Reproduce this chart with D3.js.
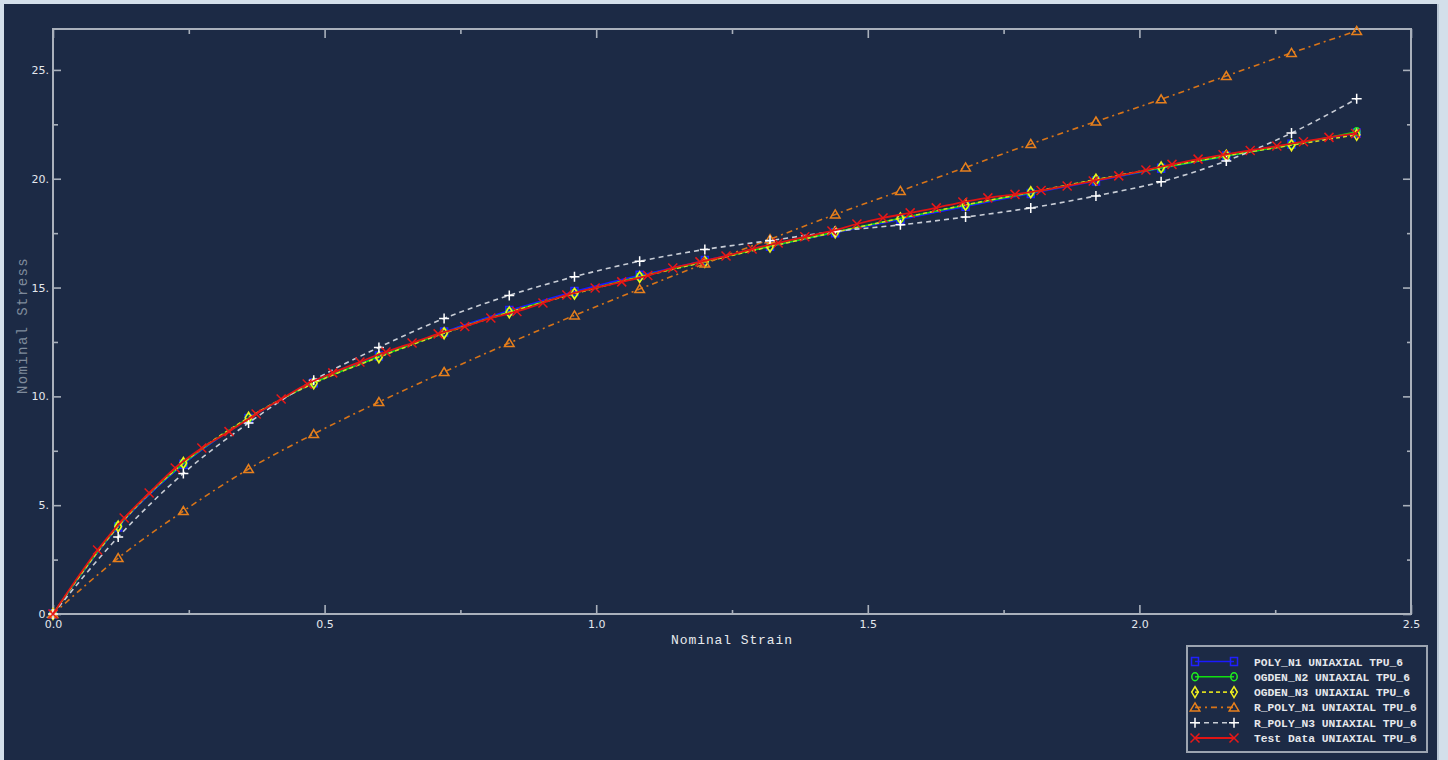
<!DOCTYPE html>
<html>
<head>
<meta charset="utf-8">
<script src="https://cdn.jsdelivr.net/npm/d3@7"></script>
<style>
  html, body { margin: 0; padding: 0; background: #d3dfea; }
  svg { display: block; }
</style>
</head>
<body>
<svg id="chart" width="1448" height="760"></svg>
<script>
// ---------------- DATA ----------------
const strain = [0, 0.12, 0.24, 0.36, 0.48, 0.60, 0.72, 0.84, 0.96, 1.08, 1.20, 1.32, 1.44, 1.56, 1.68, 1.80, 1.92, 2.04, 2.16, 2.28, 2.40];

const polyN1   = [0, 4.00, 6.88, 8.98, 10.62, 11.85, 12.96, 13.94, 14.82, 15.56, 16.24, 16.90, 17.52, 18.13, 18.73, 19.32, 19.90, 20.48, 21.04, 21.58, 22.10];
const ogdenN2  = [0, 4.04, 6.92, 9.00, 10.62, 11.82, 12.92, 13.88, 14.74, 15.50, 16.20, 16.90, 17.55, 18.18, 18.78, 19.36, 19.94, 20.50, 21.05, 21.56, 22.16];
const ogdenN3  = [0, 4.02, 6.94, 9.02, 10.60, 11.80, 12.90, 13.86, 14.72, 15.48, 16.18, 16.88, 17.54, 18.18, 18.80, 19.38, 19.96, 20.52, 21.06, 21.54, 22.02];
const rPolyN1  = [0, 2.57, 4.73, 6.66, 8.27, 9.74, 11.12, 12.45, 13.72, 14.93, 16.10, 17.22, 18.36, 19.44, 20.52, 21.60, 22.63, 23.65, 24.72, 25.78, 26.79];
const rPolyN3  = [0, 3.54, 6.46, 8.78, 10.74, 12.25, 13.58, 14.64, 15.50, 16.21, 16.75, 17.16, 17.58, 17.88, 18.24, 18.66, 19.21, 19.86, 20.82, 22.10, 23.67];

const testStrain = [0, 0.082, 0.131, 0.177, 0.225, 0.274, 0.324, 0.374, 0.420, 0.468, 0.515, 0.565, 0.613, 0.661, 0.709, 0.758, 0.806, 0.854, 0.902, 0.946, 0.998, 1.047, 1.095, 1.141, 1.191, 1.239, 1.287, 1.335, 1.384, 1.434, 1.480, 1.528, 1.578, 1.626, 1.675, 1.721, 1.771, 1.819, 1.867, 1.915, 1.962, 2.012, 2.060, 2.108, 2.154, 2.204, 2.253, 2.302, 2.349, 2.398];
const testStress = [0, 2.94, 4.41, 5.56, 6.71, 7.63, 8.38, 9.19, 9.88, 10.57, 11.08, 11.58, 12.04, 12.45, 12.87, 13.21, 13.60, 13.90, 14.29, 14.66, 14.98, 15.26, 15.55, 15.90, 16.18, 16.45, 16.77, 17.05, 17.33, 17.60, 17.92, 18.20, 18.43, 18.66, 18.93, 19.12, 19.28, 19.46, 19.67, 19.90, 20.13, 20.40, 20.66, 20.90, 21.10, 21.30, 21.50, 21.70, 21.90, 22.08];

const seriesNames = ["POLY_N1 UNIAXIAL TPU_6", "OGDEN_N2 UNIAXIAL TPU_6", "OGDEN_N3 UNIAXIAL TPU_6", "R_POLY_N1 UNIAXIAL TPU_6", "R_POLY_N3 UNIAXIAL TPU_6", "Test Data UNIAXIAL TPU_6"];

const xMajorTicks = [0, 0.5, 1.0, 1.5, 2.0, 2.5];
const xMajorLabels = ["0.0", "0.5", "1.0", "1.5", "2.0", "2.5"];
const xMinorTicks = [0.25, 0.75, 1.25, 1.75, 2.25];
const yMajorTicks = [0, 5, 10, 15, 20, 25];
const yMajorLabels = ["0.", "5.", "10.", "15.", "20.", "25."];
const yMinorTicks = [2.5, 7.5, 12.5, 17.5, 22.5];

const xLabel = "Nominal Strain";
const yLabel = "Nominal Stress";

// ---------------- STYLES ----------------
const seriesStyle = [
  { color: "#1a1aff", dash: null,      width: 1.6, marker: "square",   mcolor: "#2020ff" },
  { color: "#10e010", dash: null,      width: 1.6, marker: "circle",   mcolor: "#20f020" },
  { color: "#d8d820", dash: "4,3",     width: 1.6, marker: "diamond",  mcolor: "#f0f020" },
  { color: "#d87418", dash: "6,4,2,4", width: 1.6, marker: "triangle", mcolor: "#e8801c" },
  { color: "#c8cdd6", dash: "5,4",     width: 1.6, marker: "plus",     mcolor: "#ffffff" },
  { color: "#e01414", dash: null,      width: 1.8, marker: "x",        mcolor: "#e81818" }
];

// ---------------- LAYOUT ----------------
const svg = d3.select("#chart");
const M = { left: 53, top: 29, right: 1411, bottom: 614 };
const frameColor = "#a9b0bb";
const bg = "#1c2a45";

svg.append("rect").attr("x", 4).attr("y", 4).attr("width", 1433).attr("height", 756).attr("fill", bg);
svg.append("rect").attr("x", 1437).attr("y", 4).attr("width", 2).attr("height", 756).attr("fill", "#b8c6d4");

const x = d3.scaleLinear().domain([0, 2.5]).range([M.left, M.right]);
const y = d3.scaleLinear().domain([0, 26.88]).range([M.bottom, M.top]);

// axes
function styleAxis(g) {
  g.select(".domain").remove();
  g.selectAll(".tick line").attr("stroke", frameColor).attr("stroke-width", 1.6);
  g.selectAll(".tick text").attr("fill", "#e4e8ee").attr("font-family", "DejaVu Sans, sans-serif").attr("font-size", "11px");
}
// bottom
svg.append("g").attr("transform", `translate(0,${M.bottom})`)
  .call(d3.axisBottom(x).tickValues(xMajorTicks).tickFormat((d, i) => xMajorLabels[i]).tickSize(-9).tickPadding(6))
  .call(styleAxis);
svg.append("g").attr("transform", `translate(0,${M.bottom})`)
  .call(d3.axisBottom(x).tickValues(xMinorTicks).tickFormat("").tickSize(-4))
  .call(styleAxis);
// top
svg.append("g").attr("transform", `translate(0,${M.top})`)
  .call(d3.axisTop(x).tickValues(xMajorTicks).tickFormat("").tickSize(-9))
  .call(styleAxis);
svg.append("g").attr("transform", `translate(0,${M.top})`)
  .call(d3.axisTop(x).tickValues(xMinorTicks).tickFormat("").tickSize(-5))
  .call(styleAxis);
// left
svg.append("g").attr("transform", `translate(${M.left},0)`)
  .call(d3.axisLeft(y).tickValues(yMajorTicks).tickFormat((d, i) => yMajorLabels[i]).tickSize(-8).tickPadding(4))
  .call(styleAxis);
svg.append("g").attr("transform", `translate(${M.left},0)`)
  .call(d3.axisLeft(y).tickValues(yMinorTicks).tickFormat("").tickSize(-5))
  .call(styleAxis);
// right
svg.append("g").attr("transform", `translate(${M.right},0)`)
  .call(d3.axisRight(y).tickValues(yMajorTicks).tickFormat("").tickSize(-8))
  .call(styleAxis);
svg.append("g").attr("transform", `translate(${M.right},0)`)
  .call(d3.axisRight(y).tickValues(yMinorTicks).tickFormat("").tickSize(-4))
  .call(styleAxis);

// frame
svg.append("rect").attr("x", M.left).attr("y", M.top)
  .attr("width", M.right - M.left).attr("height", M.bottom - M.top)
  .attr("fill", "none").attr("stroke", frameColor).attr("stroke-width", 2);

// axis titles
svg.append("text").attr("x", (M.left + M.right) / 2).attr("y", 644)
  .attr("text-anchor", "middle").attr("fill", "#e8eaee")
  .attr("font-family", "Liberation Mono, monospace").attr("font-size", "13px")
  .attr("letter-spacing", "0.9px").text(xLabel);
svg.append("text").attr("transform", `translate(27,${(M.top + M.bottom) / 2 + 4}) rotate(-90)`)
  .attr("text-anchor", "middle").attr("fill", "#7f8a9b")
  .attr("font-family", "Liberation Mono, monospace").attr("font-size", "14px")
  .attr("letter-spacing", "1.4px").text(yLabel);

// markers
function markerPath(type) {
  switch (type) {
    case "square": return "M-3.5,-4H3.5V4H-3.5Z";
    case "diamond": return "M0,-5.5L3.3,0L0,5.5L-3.3,0Z";
    case "triangle": return "M0,-4.5L4.8,3.5H-4.8Z";
    case "plus": return "M-5,0H5M0,-5V5";
    case "x": return "M-4.5,-4.5L4.5,4.5M-4.5,4.5L4.5,-4.5";
    default: return null;
  }
}
function drawMarker(g, type, color, px, py) {
  if (type === "circle") {
    g.append("ellipse").attr("cx", px).attr("cy", py).attr("rx", 3.2).attr("ry", 4)
      .attr("fill", "none").attr("stroke", color).attr("stroke-width", 1.5);
  } else {
    g.append("path").attr("d", markerPath(type)).attr("transform", `translate(${px},${py})`)
      .attr("fill", "none").attr("stroke", color).attr("stroke-width", 1.5);
  }
}

const modelSeries = [polyN1, ogdenN2, ogdenN3, rPolyN1, rPolyN3];
const line = d3.line().x(d => x(d[0])).y(d => y(d[1])).curve(d3.curveMonotoneX);

const plotG = svg.append("g");
modelSeries.forEach((vals, i) => {
  const st = seriesStyle[i];
  const pts = strain.map((s, k) => [s, vals[k]]);
  const g = plotG.append("g");
  g.append("path").datum(pts).attr("d", line).attr("fill", "none")
    .attr("stroke", st.color).attr("stroke-width", st.width)
    .attr("stroke-dasharray", st.dash);
  pts.forEach(p => drawMarker(g, st.marker, st.mcolor, x(p[0]), y(p[1])));
});
// test data
{
  const st = seriesStyle[5];
  const pts = testStrain.map((s, k) => [s, testStress[k]]);
  const g = plotG.append("g");
  g.append("path").datum(pts).attr("d", line).attr("fill", "none")
    .attr("stroke", st.color).attr("stroke-width", st.width);
  pts.forEach(p => drawMarker(g, st.marker, st.mcolor, x(p[0]), y(p[1])));
}

// legend
const L = { x: 1187, y: 646, w: 240, h: 106 };
const lg = svg.append("g");
lg.append("rect").attr("x", L.x).attr("y", L.y).attr("width", L.w).attr("height", L.h)
  .attr("fill", bg).attr("stroke", "#9ca4b0").attr("stroke-width", 2);
seriesNames.forEach((name, i) => {
  const st = seriesStyle[i];
  const ry = 661.5 + i * 15.3;
  lg.append("line").attr("x1", 1195).attr("x2", 1234).attr("y1", ry).attr("y2", ry)
    .attr("stroke", st.color).attr("stroke-width", st.width).attr("stroke-dasharray", st.dash);
  drawMarker(lg, st.marker, st.mcolor, 1195, ry);
  drawMarker(lg, st.marker, st.mcolor, 1234, ry);
  lg.append("text").attr("x", 1254).attr("y", ry + 4)
    .attr("fill", "#e6e8ec").attr("font-family", "Liberation Mono, monospace")
    .attr("font-size", "11.3px").attr("font-weight", "bold").text(name);
});
</script>
</body>
</html>
